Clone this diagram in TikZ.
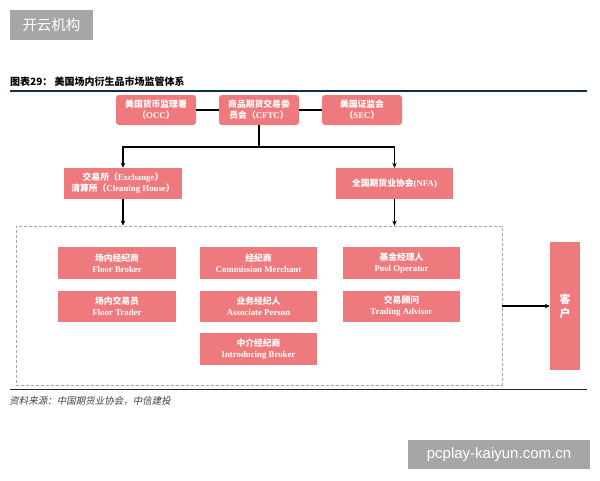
\documentclass[tikz,border=0pt]{standalone}
\usepackage{fontspec}
\setmainfont{Liberation Serif}
\newfontfamily\cjk{Noto Sans CJK SC}
\newfontfamily\wmfont{Liberation Sans}
\newcommand{\lp}{{\cjk （}}
\newcommand{\rp}{{\cjk ）}}
\usetikzlibrary{arrows.meta}
\definecolor{pinkbox}{RGB}{239,122,125}
\definecolor{wmgrey}{RGB}{166,166,166}
\definecolor{dashgrey}{RGB}{165,165,165}
\definecolor{rulecol}{RGB}{20,45,70}
\begin{document}
\begin{tikzpicture}[x=1pt,y=-1pt,
  pbox/.style={fill=pinkbox,draw=none,text=white,inner sep=0pt,align=center,font=\fontsize{8.8}{11}\selectfont\bfseries},
  conn/.style={line width=1.1pt,draw=black},
  arr/.style={conn,-{Stealth[length=5pt,width=4.5pt]}}]
\useasboundingbox (0,0) rectangle (600,480);
% watermarks
\node[fill=wmgrey,minimum width=83pt,minimum height=30pt,inner sep=0pt,text=white,font=\cjk\fontsize{14.5}{14.5}\selectfont] (wm1) at (51.5,25) {开云机构};
\node[fill=wmgrey,minimum width=182pt,minimum height=29pt,inner sep=0pt,text=white,font=\wmfont\fontsize{15}{15}\selectfont] (wm2) at (499,454.5) {pcplay-kaiyun.com.cn};
% title
\node[anchor=west,inner sep=0pt,font=\cjk\bfseries\fontsize{10}{11}\selectfont] (title) at (10,82) {图表29：\ 美国场内衍生品市场监管体系};
\coordinate (tl1) at (10,91);
\coordinate (tl2) at (587,91);
\draw[line width=1.6pt,draw=rulecol] (tl1) -- (tl2);
% top row
\node[pbox,rounded corners=3pt,minimum width=80pt,minimum height=30pt] (occ) at (156,110) {{\cjk 美国货币监理署}\\\lp OCC\rp};
\node[pbox,rounded corners=3pt,minimum width=80pt,minimum height=30pt] (cftc) at (259,110) {{\cjk 商品期货交易委}\\{\cjk 员会}\lp CFTC\rp};
\node[pbox,rounded corners=3pt,minimum width=80pt,minimum height=30pt] (sec) at (362,110) {{\cjk 美国证监会}\\\lp SEC\rp};
\draw[conn] (occ) -- (cftc);
\draw[conn] (cftc) -- (sec);
% second row
\node[pbox,minimum width=118pt,minimum height=31pt] (exch) at (123,183.5) {{\cjk 交易所}\lp Exchange\rp\\{\cjk 清算所}\lp Cleaning House\rp};
\node[pbox,minimum width=117pt,minimum height=31pt] (nfa) at (394.5,183.5) {{\cjk 全国期货业协会}(NFA)};
\coordinate (split) at (259,147);
\draw[conn] (cftc.south) -- (split);
\draw[arr] (split) -| (exch.north);
\draw[arr] (split) -| (nfa.north);
% dashed container
\node[draw=dashgrey,dashed,dash pattern=on 3pt off 2pt,line width=0.8pt,minimum width=486pt,minimum height=159pt,inner sep=0pt] (grp) at (259,305.5) {};
\draw[arr] (exch.south) -- (exch.south |- grp.north);
\draw[arr] (nfa.south) -- (nfa.south |- grp.north);
% inner boxes
\node[pbox,minimum width=118pt,minimum height=32pt] (fb) at (117,263) {{\cjk 场内经纪商}\\Floor Broker};
\node[pbox,minimum width=118pt,minimum height=31pt] (ft) at (117,306.5) {{\cjk 场内交易员}\\Floor Trader};
\node[pbox,minimum width=117pt,minimum height=32pt] (cm) at (258.5,263) {{\cjk 经纪商}\\Commission Merchant};
\node[pbox,minimum width=117pt,minimum height=31pt] (ap) at (258.5,306.5) {{\cjk 业务经纪人}\\Associate Person};
\node[pbox,minimum width=117pt,minimum height=32pt] (ib) at (258.5,349) {{\cjk 中介经纪商}\\Introducing Broker};
\node[pbox,minimum width=117pt,minimum height=32pt] (po) at (401.5,263) {{\cjk 基金经理人}\\Pool Operator};
\node[pbox,minimum width=117pt,minimum height=31pt] (ta) at (401.5,306.5) {{\cjk 交易顾问}\\Trading Advisor};
% client
\node[pbox,minimum width=30pt,minimum height=128pt,font=\cjk\bfseries\fontsize{11}{14}\selectfont] (client) at (565,306) {客\\户};
\draw[arr] (grp.east |- client.west) -- (client.west);
% bottom rule and source
\coordinate (bl1) at (10,389.5);
\coordinate (bl2) at (587,389.5);
\draw[line width=1.4pt,draw=rulecol] (bl1) -- (bl2);
\node[anchor=west,inner sep=0pt,text=black!75,font=\cjk\fontsize{9.5}{10}\selectfont,xslant=0.2] (src) at (10,401) {资料来源：中国期货业协会，中信建投};
\end{tikzpicture}
\end{document}
